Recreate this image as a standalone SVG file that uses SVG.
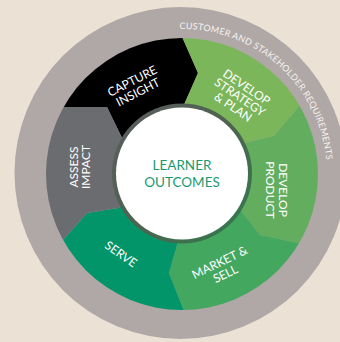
<svg xmlns="http://www.w3.org/2000/svg" width="340" height="342" viewBox="0 0 340 342">
  <defs>
    <style>
      .lbl { font-family: "Lato", "Open Sans", "Liberation Sans", sans-serif; font-size: 12px; fill: #ffffff; text-anchor: middle; }
      .core { font-family: "Lato", "Open Sans", "Liberation Sans", sans-serif; font-size: 13.5px; fill: #1b9a72; text-anchor: middle; }
      .arc { font-family: "Lato", "Open Sans", "Liberation Sans", sans-serif; font-size: 9px; fill: #f6f2f0; }
    </style>
    <!-- colour band of the cycle -->
    <clipPath id="band">
      <circle cx="182" cy="174" r="136"/>
    </clipPath>
    <linearGradient id="rim" x1="0" y1="0" x2="1" y2="1">
      <stop offset="0" stop-color="#5c5c5e"/>
      <stop offset="0.5" stop-color="#4d6350"/>
      <stop offset="1" stop-color="#2f7d4e"/>
    </linearGradient>
    <path id="arcPath" d="M179.47 29.02 A145 145 0 0 1 324.8 199.2"/>
  </defs>

  <rect width="340" height="342" fill="#ece1d5"/>

  <!-- outer requirements ring -->
  <g id="requirements">
    <circle cx="180.5" cy="173" r="166" fill="#afa8a6"/>
    <text class="arc"><textPath href="#arcPath" textLength="216" lengthAdjust="spacing">CUSTOMER AND STAKEHOLDER REQUIREMENTS</textPath></text>
  </g>

  <!-- cycle stages, each an arrow-shaped sector clipped to the band -->
  <g clip-path="url(#band)">
    <g id="capture-insight">
      <polygon fill="#000000" points="182,174 123,140 107,107 63,107 -57,107 -90.8,-118.5 134.5,-70.8 183,39 198,73 183,107"/>
      <text class="lbl" transform="translate(135 86.5) rotate(-27)"><tspan x="0" y="-1.95">CAPTURE</tspan><tspan x="0" y="10.55">INSIGHT</tspan></text>
    </g>
    <g id="develop-strategy">
      <polygon fill="#7cb65a" points="182,174 183,107 198,73 183,39 134.5,-70.8 317.5,-202.3 379.6,11.6 302,103 274,136 245,143"/>
      <text class="lbl" transform="translate(240 97) rotate(34)"><tspan x="0" y="-7.7">DEVELOP</tspan><tspan x="0" y="4.3">STRATEGY</tspan><tspan x="0" y="16.3">&amp; PLAN</tspan></text>
    </g>
    <g id="develop-product">
      <polygon fill="#63ad5f" points="182,174 245,143 274,136 302,103 379.6,11.6 577.3,112.8 415.5,267.7 298,243 260,235 238,207"/>
      <text class="lbl" transform="translate(277 190) rotate(90)"><tspan x="0" y="-1.95">DEVELOP</tspan><tspan x="0" y="10.55">PRODUCT</tspan></text>
    </g>
    <g id="market-sell">
      <polygon fill="#44a760" points="182,174 238,207 260,235 298,243 415.5,267.7 435.4,483.5 228,422.6 184,311 169,273 177,245"/>
      <text class="lbl" transform="translate(222.5 268) rotate(-26)"><tspan x="0" y="-2.2">MARKET &amp;</tspan><tspan x="0" y="10.8">SELL</tspan></text>
    </g>
    <g id="serve">
      <polygon fill="#02956a" points="182,174 177,245 169,273 184,311 228,422.6 40.3,548.1 -16.7,329.6 63,240 87,213 118,208"/>
      <text class="lbl" transform="translate(121 254) rotate(35)"><tspan x="0" y="4.3">SERVE</tspan></text>
    </g>
    <g id="assess-impact">
      <polygon fill="#6b6c70" points="182,174 118,208 87,213 63,240 -16.7,329.6 -210.5,251 -57,107 63,107 107,107 123,140"/>
      <text class="lbl" transform="translate(79.5 167) rotate(-90)"><tspan x="0" y="-1.95">ASSESS</tspan><tspan x="0" y="10.55">IMPACT</tspan></text>
    </g>
  </g>

  <!-- hub -->
  <g id="learner-outcomes">
    <circle cx="182" cy="173.5" r="70" fill="url(#rim)"/>
    <circle cx="182" cy="173.5" r="66" fill="#ffffff"/>
    <text class="core" x="182" y="169.5">LEARNER</text>
    <text class="core" x="182" y="186.5">OUTCOMES</text>
  </g>

  <g id="connectors"/>
</svg>
